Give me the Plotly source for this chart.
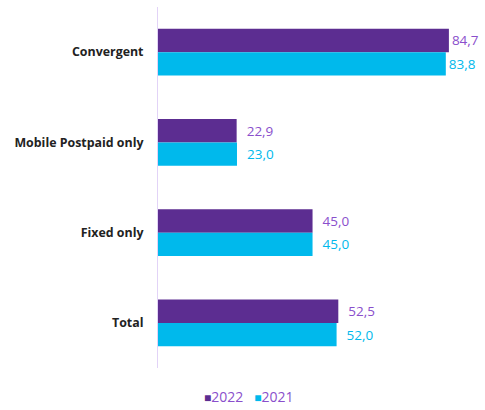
import plotly.graph_objects as go

categories = ["Convergent", "Mobile Postpaid only", "Fixed only", "Total"]
values_2022 = [84.7, 22.9, 45.0, 52.5]
values_2021 = [83.8, 23.0, 45.0, 52.0]
series_names = ["2022", "2021"]

PURPLE = "#5C2D91"
PURPLE_TEXT = "#8A4FCC"
CYAN = "#00B9EC"
PAD = "\u00a0\u00a0"


def fmt(v, i):
    s = f"{v:.1f}".replace(".", ",")
    # the longest bar keeps its label tight against the bar end
    return s if i == 0 else PAD + s


fig = go.Figure()
fig.add_trace(go.Bar(
    name=series_names[0], y=categories, x=values_2022, orientation="h",
    marker=dict(color=PURPLE, line=dict(width=0)),
    text=[fmt(v, i) for i, v in enumerate(values_2022)], textposition="outside",
    textfont=dict(color=PURPLE_TEXT, size=13.5), cliponaxis=False,
))
fig.add_trace(go.Bar(
    name=series_names[1], y=categories, x=values_2021, orientation="h",
    marker=dict(color=CYAN, line=dict(width=0)),
    text=[fmt(v, i) for i, v in enumerate(values_2021)], textposition="outside",
    textfont=dict(color=CYAN, size=13.5), cliponaxis=False,
))

legend_text = (
    f"<span style='color:{PURPLE};font-size:12px'>■</span>{series_names[0]}"
    f"\u00a0\u00a0\u00a0"
    f"<span style='color:{CYAN};font-size:12px'>■</span>{series_names[1]}"
)

fig.update_layout(
    width=485, height=410,
    margin=dict(l=158, r=10, t=7, b=42),
    paper_bgcolor="white", plot_bgcolor="white",
    font=dict(family="Open Sans, sans-serif"),
    barmode="group", bargap=0.48, bargroupgap=0,
    showlegend=False,
    annotations=[dict(
        text=legend_text, xref="paper", yref="paper",
        x=(248 - 158) / (485 - 158 - 10), y=-(396 - 368) / (410 - 7 - 42),
        xanchor="center", yanchor="middle", showarrow=False,
        font=dict(color=PURPLE_TEXT, size=14),
    )],
    xaxis=dict(range=[0, 92.3], visible=False, showgrid=False, zeroline=False),
    yaxis=dict(
        autorange="reversed", showgrid=False, zeroline=False,
        showline=True, linecolor="#E2D3F7", linewidth=1,
        ticks="", ticklabelstandoff=11,
        tickfont=dict(color="#222222", size=12.4, family="Open Sans, sans-serif", weight="bold"),
    ),
)

fig.write_html("out.html")
